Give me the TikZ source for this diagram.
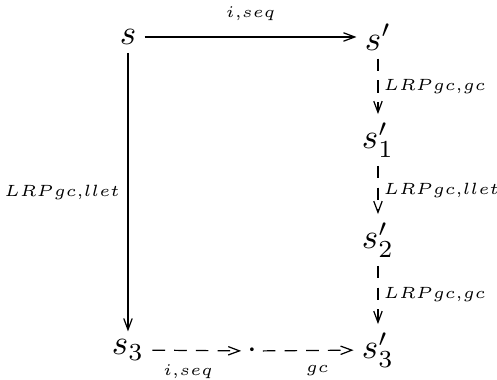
\documentclass[tikz,border=0pt]{standalone}
\usepackage{graphicx}
\usetikzlibrary{arrows.meta}
\newcommand{\lbtext}[1]{\scalebox{0.93}{$#1$}}
\begin{document}
\begin{tikzpicture}[x=0.2857pt,y=-0.2857pt,
  obj/.style={inner sep=2.2pt},
  arr/.style={line width=0.35pt,-{Straight Barb[length=3.2pt,width=2.4pt]}},
  dsh/.style={arr,dash pattern=on 3.6pt off 2.6pt},
  lbl/.style={inner sep=1pt,font=\fontsize{5}{6}\selectfont}]
\useasboundingbox (0,0) rectangle (497,380);
\node[obj] (s) at (128,37) {$s$};
\node[obj] (sp) at (378,37) {$s'$};
\node[obj] (s1) at (378,140) {$s'_1$};
\node[obj] (s2) at (378,240) {$s'_2$};
\node[obj] (s3p) at (378,350) {$s'_3$};
\node[obj] (s3) at (128,350) {$s_3$};
\node[obj,inner sep=1.5pt] (d) at (252,351) {$\cdot$};
\draw[arr] (s) -- node[lbl,above=3.5pt] {\lbtext{i{,}seq}} (sp);
\draw[arr] (s) -- node[lbl,left=1.2pt] {\lbtext{LRPgc{,}llet}} (s3);
\draw[dsh] (sp) -- node[lbl,right=0.4pt] {\lbtext{LRPgc{,}gc}} (s1);
\draw[dsh] (s1) -- node[lbl,right=0.4pt] {\lbtext{LRPgc{,}llet}} (s2);
\draw[dsh] (s2) -- node[lbl,right=0.4pt] {\lbtext{LRPgc{,}gc}} (s3p);
\draw[dsh] (s3) -- node[lbl,below=3pt,pos=0.4] {\lbtext{i{,}seq}} (d);
\draw[dsh] (d) -- node[lbl,below=3pt,pos=0.6] {\lbtext{gc}} (s3p);
\end{tikzpicture}
\end{document}
